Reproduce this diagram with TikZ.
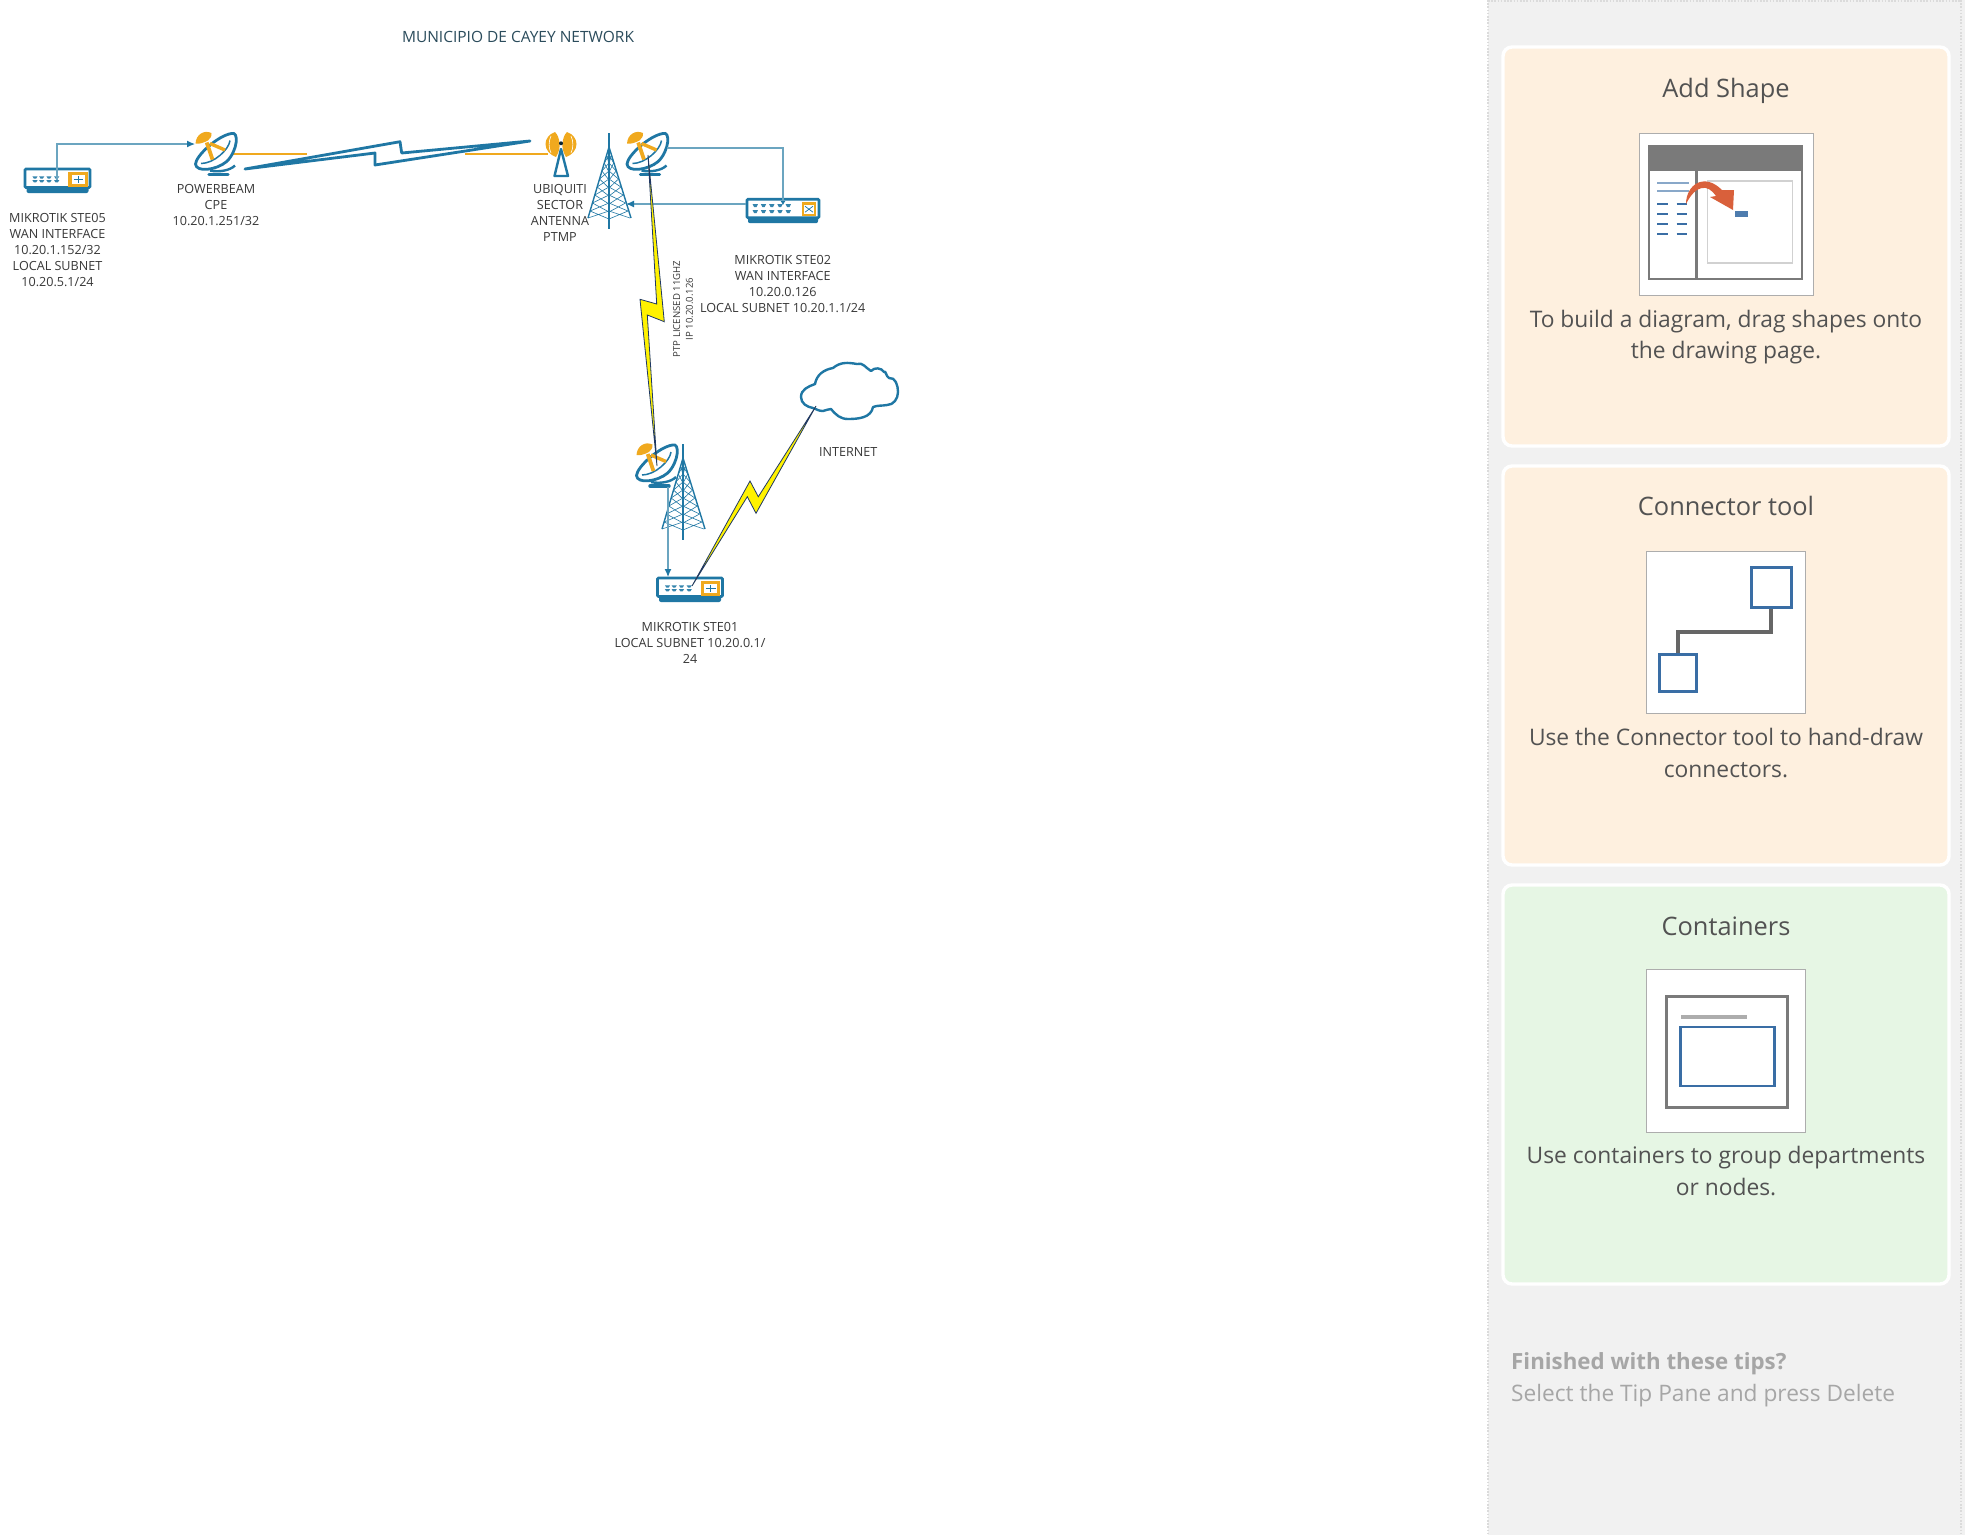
\documentclass[tikz,border=0pt]{standalone}
\usepackage{fontspec}
\usepackage{xcolor}
\usetikzlibrary{positioning, arrows.meta, shapes}
\setmainfont{Open Sans}

\definecolor{devblue}{HTML}{1F77A4}
\definecolor{wireblue}{HTML}{6BA5C0}
\definecolor{devorange}{HTML}{F0A91E}
\definecolor{boltdark}{HTML}{1F3864}
\definecolor{panelgray}{HTML}{F1F1F1}
\definecolor{cardpeach}{HTML}{FEF0DF}
\definecolor{cardgreen}{HTML}{E6F6E4}
\definecolor{iconblue}{HTML}{3A6EA5}
\definecolor{icongray}{HTML}{7A7A7A}
\definecolor{tipgray}{HTML}{A6A6A6}
\definecolor{dragred}{HTML}{D9603B}
\definecolor{titleteal}{HTML}{2B4C5C}

\tikzset{
    dish/.pic={
        % base and stand
        \draw[devblue, line width=3.4pt, line cap=round] (-7,20) -- (12,20);
        \draw[devblue, line width=2.4pt] (-6,16) .. controls (3,18) and (14,16) .. (19,11);
        % bowl
        \draw[devblue, fill=white, line width=2.8pt, line join=round] (15.5,-21) .. controls (23,-24) and (22,-4) .. (10.7,7)
            .. controls (0,16) and (-20,18) .. (-20.5,9.5) .. controls (-20,1) and (2,-19) .. (15.5,-21) -- cycle;
        \draw[devblue, line width=1.5pt] (14,-14) .. controls (13,-5) and (-2,9) .. (-15,9);
        % feed
        \draw[devorange, line width=3.8pt] (-9.3,-12) -- (-3.5,5);
        \draw[devorange, line width=3.4pt] (-6,-11) -- (9,-4.5);
        \fill[devorange] (-20.5,-11) .. controls (-20,-20) and (-12,-25) .. (-4.5,-21.5) .. controls (-4,-18) and (-6,-16) .. (-8,-14)
            .. controls (-12,-12) and (-17,-10) .. (-20.5,-11) -- cycle;
    },
    router/.pic={
        \fill[devblue, rounded corners=2pt] (-31,5) rectangle (31,12.5);
        \draw[devblue, fill=white, line width=2.6pt, rounded corners=1pt] (-32.5,-11.5) rectangle (32.5,7);
        \foreach \px in {-22.5,-15.8,-8.5,-.8}
            \foreach \py in {-4.2,-.4}
                \fill[devblue!90] (\px-2.6,\py) -- (\px+2.6,\py) -- (\px+1.2,\py+2.2) -- (\px-1.2,\py+2.2) -- cycle;
        \fill[devorange] (10.8,-8.5) rectangle (30.2,6.5);
        \fill[white] (14,-5.8) rectangle (27,3.4);
        \draw[devblue, line width=.7pt] (16,-1.2) -- (25.5,-1.2) (20.7,-4.5) -- (20.7,2.5);
    },
    routerwide/.pic={
        \fill[devblue, rounded corners=2pt] (-35,5) rectangle (35,12.5);
        \draw[devblue, fill=white, line width=2.6pt, rounded corners=1pt] (-36,-11.5) rectangle (36,7);
        \foreach \px in {-27.7,-19.5,-11.2,-3,5.3}
            \foreach \py in {-6.5,-.5}
                \fill[devblue!90] (\px-2.6,\py) -- (\px+2.6,\py) -- (\px+1.2,\py+2.8) -- (\px-1.2,\py+2.8) -- cycle;
        \fill[devorange] (18.5,-8.5) rectangle (33,5.5);
        \fill[white] (21,-6) rectangle (30.5,3);
        \draw[devblue, line width=.7pt] (22,-4.5) -- (30,1.5) (22,1.5) -- (30,-4.5);
    },
    mast/.pic={
        \draw[devblue, line width=1.6pt] (0,0) -- (0,96);
        \draw[devblue, line width=1.4pt] (0,14) -- (-21,85) (0,14) -- (22,85);
        \foreach \ya/\yb in {22/30,30/38,38/46,46/54,54/62,62/70,70/78,78/85}{
            \pgfmathsetmacro{\xa}{21*(\ya-14)/71}
            \pgfmathsetmacro{\xb}{21*(\yb-14)/71}
            \draw[devblue, line width=.6pt] (-\xa,\ya) -- (0,\yb+1) (0,\ya) -- (-\xb,\yb);
            \draw[devblue, line width=.6pt] (\xa,\ya) -- (0,\yb+1) (0,\ya) -- (\xb,\yb);
        }
    },
}

\begin{document}
\begin{tikzpicture}[
    x=1pt, y=-1pt,
    device/.style={inner sep=0pt, minimum size=4pt},
    caption/.style={align=center, inner sep=0pt, text=black!78, font=\fontsize{12.6}{16}\selectfont},
    wire/.style={draw=wireblue, line width=1.2pt},
    arrow/.style={wire, -{Latex[length=8pt, width=7pt, color=devblue]}},
    boltblue/.style={draw=devblue, fill=white, line width=2.8pt, line join=round},
    boltyellow/.style={draw=boltdark, fill=yellow, line width=.8pt, line join=miter},
    beam/.style={devorange, line width=2.8pt},
    card/.style={draw=white, line width=3.4pt, rounded corners=9pt},
    tiptitle/.style={text=black!68, font=\fontsize{25.4}{30}\selectfont},
    tiptext/.style={text=black!68, align=center, font=\fontsize{22.8}{31.5}\selectfont},
    iconbox/.style={draw=black!32, fill=white, line width=1pt},
    blueline/.style={iconblue, line width=2pt},
    bluesq/.style={draw=iconblue, fill=white, line width=2.8pt, inner sep=0pt},
    paneledge/.style={black!14, line width=2.6pt, dash pattern=on 1.6pt off 1.6pt}
]
\useasboundingbox (0,0) rectangle (1965,1535);
\fill[white] (0,0) rectangle (1965,1535);

% Devices
\node[device] (ste05) at (57.5,180.5) {};
\node[device] (cpe) at (216,154.5) {};
\node[device] (sector) at (561,154.5) {};
\node[device] (towerA) at (609,133) {};
\node[device] (dishA) at (647.5,154.5) {};
\node[device] (ste02) at (783,210.7) {};
\node[device] (dishB) at (657,466) {};
\node[device] (towerB) at (683,444) {};
\node[device] (ste01) at (690,589.5) {};
\node[device] (inet) at (849,391) {};

% Beams behind the antennas
\draw[beam] (233,154) -- (307,154);
\draw[beam] (465,154) -- (548,154);

\pic at (ste05) {router};
\pic at (cpe) {dish};
\pic at (ste02) {routerwide};
\pic at (towerA) {mast};
\pic at (dishA) {dish};
\pic at (towerB) {mast};
\pic at (dishB) {dish};
\pic at (ste01) {router};

% Sector antenna
\fill[devorange] (555,132) .. controls (549,134) and (545.5,139) .. (545.5,144) .. controls (545.5,150) and (550,155) .. (556,157)
    .. controls (559,152) and (560,148) .. (559.5,143) .. controls (559,139) and (558,135) .. (555,132) -- cycle;
\fill[devorange] (567,132) .. controls (573,134) and (576.5,139) .. (576.5,144) .. controls (576.5,150) and (572,155) .. (566,157)
    .. controls (563,152) and (562,148) .. (562.5,143) .. controls (563,139) and (564,135) .. (567,132) -- cycle;
\draw[white, line width=.6pt] (551,136) .. controls (548.5,141) and (548.5,148) .. (551,153) (571,136) .. controls (573.5,141) and (573.5,148) .. (571,153);
\draw[devblue, line width=2.4pt, line join=round] (561,149) -- (554.5,176) -- (568,176) -- cycle;
\fill[black!70!devblue] (561,143.3) circle (2pt);

% Cloud
\draw[devblue, line width=2.4pt, fill=white, line join=round] (801,397) to[out=90,in=200] (815,384) to[out=80,in=190] (833,368)
    to[out=40,in=170] (857,364) to[out=20,in=150] (871,371) to[out=50,in=120] (884,372) to[out=60,in=160] (889,378)
    to[out=10,in=90] (898,392) to[out=-90,in=0] (887,405) to[out=190,in=20] (873,407) to[out=-100,in=0] (848,419)
    to[out=180,in=-50] (831,409) to[out=170,in=0] (823,411) to[out=180,in=-20] (813,408) to[out=170,in=-90] (801,397) -- cycle;

% Links
\coordinate (ste05port) at (57,180);
\coordinate (ste02port) at (783,205);
\coordinate (cpein) at (195,144);
\coordinate (dishAout) at (667,148);
\coordinate (ste02out) at (746,204);
\coordinate (towerAin) at (626,204);
\coordinate (dishBout) at (668,487);
\coordinate (ste01in) at (668,577);
\draw[arrow] (ste05port) |- (cpein);
\draw[wire, -{Latex[length=4pt, width=5pt, color=devblue]}] (dishAout) -| (ste02port);
\draw[arrow] (ste02out) -- (towerAin);
\draw[arrow] (dishBout) -- (ste01in);

% Radio bolts
\draw[boltblue] (245,169) -- (400,141.7) -- (401.7,153) -- (530,141) -- (375,165) -- (375,153) -- cycle;
\draw[boltyellow] (648,155) -- (664.3,321.7) -- (647.3,315) -- (657,466) -- (640,299.3) -- (656.7,304) -- cycle;
\draw[boltyellow] (692,586) -- (750,481) -- (758.3,496.7) -- (816,406) -- (756,513.3) -- (747.3,496.7) -- cycle;

% Labels
\node[caption, text=titleteal, font=\fontsize{15.5}{18}\selectfont] (title) at (518,36.5) {MUNICIPIO DE CAYEY NETWORK};
\node[caption] (ste05txt) at (57.5,250) {MIKROTIK STE05\\WAN INTERFACE\\10.20.1.152/32\\LOCAL SUBNET\\10.20.5.1/24};
\node[caption] (cpetxt) at (216,204.7) {POWERBEAM\\CPE\\10.20.1.251/32};
\node[caption] (sectortxt) at (560,213) {UBIQUITI\\SECTOR\\ANTENNA\\PTMP};
\node[caption] (ste02txt) at (782.7,284) {MIKROTIK STE02\\WAN INTERFACE\\10.20.0.126\\LOCAL SUBNET 10.20.1.1/24};
\node[caption, rotate=90, font=\fontsize{9.6}{12.7}\selectfont] (ptptxt) at (683,309) {PTP LICENSED 11GHZ\\IP 10.20.0.126};
\node[caption] (inettxt) at (848.3,451.7) {INTERNET};
\node[caption] (ste01txt) at (690,643.2) {MIKROTIK STE01\\LOCAL SUBNET 10.20.0.1/\\24};

% Tip pane
\fill[panelgray] (1488,0) rectangle (1965,1535);
\draw[paneledge] (1488,0) -- (1488,1535);
\draw[paneledge] (1961,0) -- (1961,1535);
\draw[paneledge] (1488,1) -- (1961,1);
\draw[card, fill=cardpeach] (1503,47) rectangle (1949,446);
\draw[card, fill=cardpeach] (1503,466) rectangle (1949,865);
\draw[card, fill=cardgreen] (1503,885) rectangle (1949,1284);

% Add Shape
\node[tiptitle] (addtitle) at (1726,90.5) {Add Shape};
\node[iconbox, minimum width=174pt, minimum height=162pt] (addbox) at (1726,214) {};
\draw[icongray, line width=2pt] (1649.3,145.7) rectangle (1802,279.3);
\fill[icongray] (1649.3,145.7) rectangle (1802,171);
\draw[icongray, line width=3pt] (1696.7,171) -- (1696.7,279.3);
\draw[black!18, line width=1.6pt] (1707.3,180.7) rectangle (1792.3,262.7);
\foreach \ly in {183,191}
    \draw[iconblue!60, line width=2pt] (1657.3,\ly) -- (1689,\ly);
\foreach \ly in {204,214,224,234}{
    \draw[blueline] (1657.3,\ly) -- (1668.3,\ly);
    \draw[blueline] (1676.7,\ly) -- (1687.3,\ly);
}
\fill[iconblue!90!white] (1735.3,211) rectangle (1748,217.3);
\fill[dragred] (1686,204) .. controls (1686,185) and (1704,172) .. (1722,190) -- (1734,190)
    -- (1733,210) -- (1710,197) -- (1716,196) .. controls (1708,184) and (1696,184) .. (1686,204) -- cycle;
\node[tiptext] (addtxt) at (1726,337) {To build a diagram, drag shapes onto\\the drawing page.};

% Connector tool
\node[tiptitle] (contitle) at (1726,506) {Connector tool};
\node[iconbox, minimum width=159pt, minimum height=162pt] (conbox) at (1725.5,632) {};
\node[bluesq, minimum size=40pt] (sqtop) at (1771.3,587.3) {};
\node[bluesq, minimum size=37pt] (sqbot) at (1678.3,672.7) {};
\draw[black!60, line width=4pt] (sqtop.south) -- ++(0,23) -| (sqbot.north);
\node[tiptext] (contxt) at (1726,753) {Use the Connector tool to hand-draw\\connectors.};

% Containers
\node[tiptitle] (boxtitle) at (1726,926) {Containers};
\node[iconbox, minimum width=159pt, minimum height=163pt] (boxbox) at (1725.5,1050.5) {};
\draw[icongray, line width=3pt] (1666,996) rectangle (1787.3,1107.6);
\draw[black!32, line width=3.4pt] (1681.3,1017) -- (1746.7,1017);
\draw[iconblue, line width=2.8pt] (1680.7,1027) rectangle (1774.7,1086);
\node[tiptext] (boxtxt) at (1726,1171) {Use containers to group departments\\or nodes.};

% Closing note
\node[anchor=west, text=tipgray, inner sep=0pt, font=\fontsize{22.3}{30}\selectfont\bfseries] (donetxt) at (1511,1364) {Finished with these tips?};
\node[anchor=west, text=tipgray, inner sep=0pt, font=\fontsize{22.7}{30}\selectfont] (deltxt) at (1511,1395.5) {Select the Tip Pane and press Delete};

\end{tikzpicture}
\end{document}
